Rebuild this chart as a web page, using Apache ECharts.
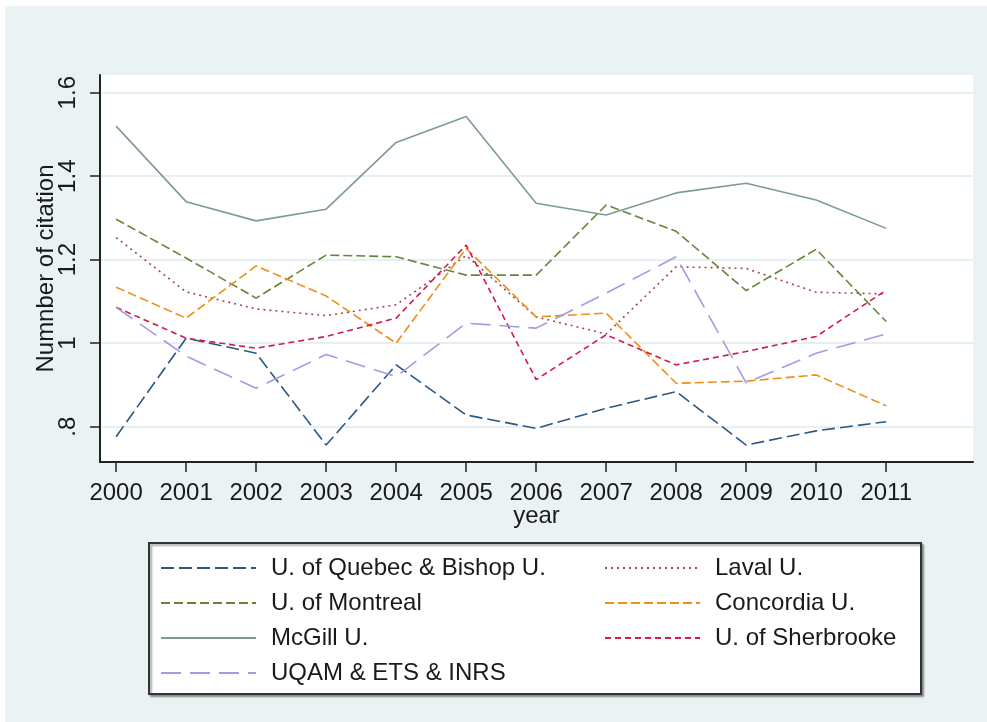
<!DOCTYPE html>
<html>
<head>
<meta charset="utf-8">
<script src="https://cdn.jsdelivr.net/npm/echarts@6/dist/echarts.min.js"></script>
<style>
  html, body { margin: 0; padding: 0; background: #fff; }
  #main { width: 987px; height: 722px; }
</style>
</head>
<body>
<div id="main"></div>
<script>
// years on the x axis
var years = [2000, 2001, 2002, 2003, 2004, 2005, 2006, 2007, 2008, 2009, 2010, 2011];
var yTicks = [0.8, 1.0, 1.2, 1.4, 1.6];

// citation values
var quebecBishop = [0.776, 1.012, 0.976, 0.756, 0.948, 0.828, 0.796, 0.844, 0.884, 0.756, 0.790, 0.812];
var laval = [1.253, 1.123, 1.082, 1.066, 1.092, 1.210, 1.063, 1.022, 1.183, 1.179, 1.122, 1.118];
var montreal = [1.297, 1.204, 1.108, 1.211, 1.207, 1.163, 1.163, 1.331, 1.268, 1.126, 1.225, 1.052];
var concordia = [1.134, 1.060, 1.185, 1.113, 1.000, 1.227, 1.063, 1.072, 0.904, 0.909, 0.924, 0.850];
var mcgill = [1.520, 1.339, 1.293, 1.321, 1.481, 1.543, 1.335, 1.307, 1.360, 1.383, 1.343, 1.275];
var sherbrooke = [1.086, 1.012, 0.988, 1.016, 1.060, 1.235, 0.913, 1.020, 0.948, 0.980, 1.016, 1.127];
var uqam = [1.086, 0.969, 0.892, 0.973, 0.920, 1.048, 1.036, 1.120, 1.207, 0.905, 0.976, 1.022];

var FONT = 'Liberation Sans';

function pairs(vals) {
    var out = [];
    for (var i = 0; i < years.length; i++) {
        out.push([years[i], vals[i]]);
    }
    return out;
}

// name, values, colour, dash
var lines = [
    ['U. of Quebec & Bishop U.', quebecBishop, '#2b5784', [13, 5]],
    ['Laval U.', laval, '#a0484f', [2, 4]],
    ['U. of Montreal', montreal, '#64853a', [9, 4]],
    ['Concordia U.', concordia, '#ef8e17', [9, 4]],
    ['McGill U.', mcgill, '#7c9c90', 'solid'],
    ['U. of Sherbrooke', sherbrooke, '#d01c45', [6, 4]],
    ['UQAM & ETS & INRS', uqam, '#a49be2', [20, 9]]
];

var series = [];
for (var i = 0; i < lines.length; i++) {
    series.push({
        name: lines[i][0],
        type: 'line',
        data: pairs(lines[i][1]),
        symbol: 'none',
        animation: false,
        lineStyle: { color: lines[i][2], width: 1.6, type: lines[i][3] },
        itemStyle: { color: lines[i][2] }
    });
}

var legendText = {
    fontFamily: FONT,
    fontSize: 24,
    color: '#1a1a1a',
    lineHeight: 26,
    padding: [0, 0, 0, 10]
};

var myChart = echarts.init(document.getElementById('main'));
var option = {
    backgroundColor: '#ffffff',
    animation: false,
    graphic: [
        {
            type: 'rect', z: -10, silent: true,
            shape: { x: 5, y: 6, width: 982, height: 716 },
            style: { fill: '#eaf2f3' }
        },
        {
            type: 'rect', z: 1, silent: true,
            shape: { x: 149, y: 543, width: 772, height: 151 },
            style: {
                fill: '#ffffff', stroke: '#333333', lineWidth: 2,
                shadowColor: 'rgba(0,0,0,0.35)', shadowOffsetX: 2, shadowOffsetY: 2, shadowBlur: 2
            }
        }
    ],
    grid: {
        left: 100, top: 75, right: 14, bottom: 260,
        show: true, backgroundColor: '#ffffff', borderWidth: 0
    },
    xAxis: {
        type: 'value',
        min: 1999.77,
        max: 2012.24,
        name: 'year',
        nameLocation: 'middle',
        nameGap: 42,
        nameMoveOverlap: false,
        nameTextStyle: { fontFamily: FONT, fontSize: 24, color: '#1a1a1a' },
        axisLine: { lineStyle: { color: '#222', width: 2 } },
        axisTick: { show: true, length: 10, customValues: years, lineStyle: { color: '#222', width: 1.5 } },
        axisLabel: {
            customValues: years,
            margin: 19,
            fontFamily: FONT, fontSize: 24, color: '#1a1a1a',
            formatter: function (v) { return String(v); }
        },
        splitLine: { show: false }
    },
    yAxis: {
        type: 'value',
        min: 0.7154,
        max: 1.6424,
        name: 'Numnber of citation',
        nameLocation: 'middle',
        nameRotate: 90,
        nameGap: 42,
        nameMoveOverlap: false,
        nameTextStyle: { fontFamily: FONT, fontSize: 24, color: '#1a1a1a' },
        axisLine: { show: true, lineStyle: { color: '#222', width: 2 } },
        axisTick: { show: true, length: 10, customValues: yTicks, lineStyle: { color: '#222', width: 1.5 } },
        axisLabel: {
            customValues: yTicks,
            rotate: 90,
            margin: 20,
            fontFamily: FONT, fontSize: 24, color: '#1a1a1a',
            formatter: function (v) {
                var s = (Math.round(v * 10) / 10).toString();
                return s.replace(/^0\./, '.');
            }
        },
        splitLine: { show: true, lineStyle: { color: '#e6eff1', width: 2 } }
    },
    legend: [
        {
            orient: 'vertical',
            left: 160, top: 555,
            padding: 0,
            itemWidth: 95, itemHeight: 12, itemGap: 9,
            itemStyle: { opacity: 0 },
            data: ['U. of Quebec & Bishop U.', 'U. of Montreal', 'McGill U.', 'UQAM & ETS & INRS'],
            textStyle: legendText
        },
        {
            orient: 'vertical',
            left: 604, top: 555,
            padding: 0,
            itemWidth: 95, itemHeight: 12, itemGap: 9,
            itemStyle: { opacity: 0 },
            data: ['Laval U.', 'Concordia U.', 'U. of Sherbrooke'],
            textStyle: legendText
        }
    ],
    series: series
};
myChart.setOption(option);
</script>
</body>
</html>
